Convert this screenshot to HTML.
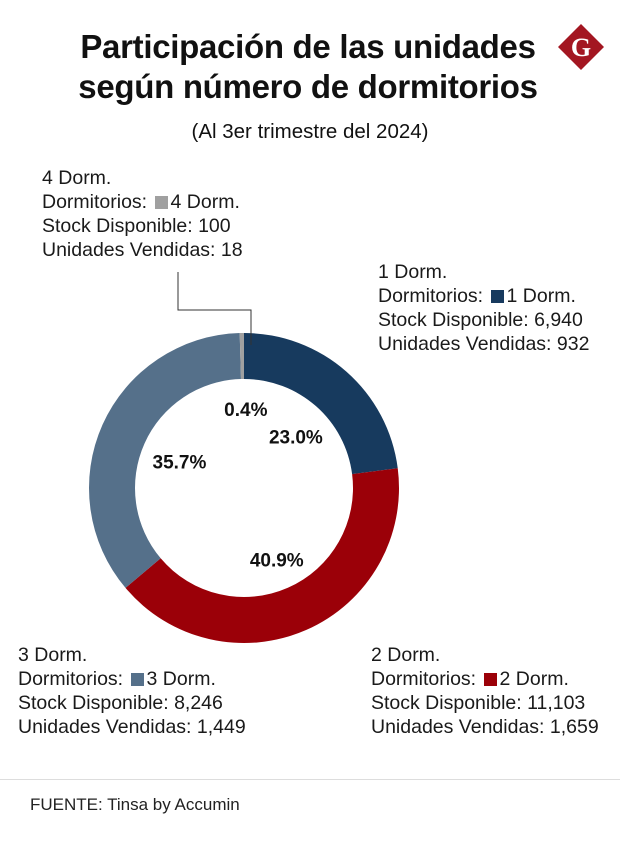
<!DOCTYPE html>
<html><head><meta charset="utf-8"><style>
body{margin:0;width:620px;height:848px;background:#fff;font-family:"Liberation Sans",sans-serif;position:relative;overflow:hidden}
.t{position:absolute;left:0;width:620px;text-align:center;font-weight:bold;color:#111}
.lab{position:absolute;font-size:19.5px;line-height:24px;color:#1a1a1a;white-space:nowrap}
.sq{display:inline-block;width:13px;height:13px;margin:0 3px 0 2px;vertical-align:-1px}
</style></head><body>
<div class="t" style="top:27px;font-size:33px;line-height:40px;left:-2px;font-weight:900;letter-spacing:-0.3px">Participación de las unidades<br>según número de dormitorios</div>
<div class="t" style="top:120px;font-size:20.5px;font-weight:normal;left:0px">(Al 3er trimestre del 2024)</div>
<svg style="position:absolute;left:557px;top:23px" width="48" height="48"><polygon points="24,1 47,24 24,47 1,24" fill="#a31621"/><text x="24" y="33" text-anchor="middle" font-family="Liberation Serif" font-weight="bold" font-size="26" fill="#fff">G</text></svg>
<svg id="chart" style="position:absolute;left:0;top:0" width="620" height="848"></svg>
<div class="lab" style="left:42px;top:166px">4 Dorm.<br>Dormitorios: <span class="sq" style="background:#a0a0a0"></span>4 Dorm.<br>Stock Disponible: 100<br>Unidades Vendidas: 18</div>
<div class="lab" style="left:378px;top:260px">1 Dorm.<br>Dormitorios: <span class="sq" style="background:#173a5e"></span>1 Dorm.<br>Stock Disponible: 6,940<br>Unidades Vendidas: 932</div>
<div class="lab" style="left:18px;top:643px">3 Dorm.<br>Dormitorios: <span class="sq" style="background:#55708a"></span>3 Dorm.<br>Stock Disponible: 8,246<br>Unidades Vendidas: 1,449</div>
<div class="lab" style="left:371px;top:643px">2 Dorm.<br>Dormitorios: <span class="sq" style="background:#9b0008"></span>2 Dorm.<br>Stock Disponible: 11,103<br>Unidades Vendidas: 1,659</div>
<div style="position:absolute;left:0;top:779px;width:620px;height:1px;background:#ddd"></div>
<div style="position:absolute;left:30px;top:795px;font-size:17px;color:#222">FUENTE: Tinsa by Accumin</div>
<script>
const categories=["1 Dorm.","2 Dorm.","3 Dorm.","4 Dorm."];
const sold=[932,1659,1449,18];
const colors=["#173a5e","#9b0008","#55708a","#a0a0a0"];
const svg=document.getElementById('chart');const NS="http://www.w3.org/2000/svg";
const cx=244,cy=488,R=155,r=109;
const total=sold.reduce((a,b)=>a+b,0);
function pt(a,rad){return [cx+rad*Math.sin(a),cy-rad*Math.cos(a)];}
let acc=0;
sold.forEach((v,i)=>{
 const a0=acc/total*2*Math.PI;acc+=v;const a1=acc/total*2*Math.PI;
 const lg=(a1-a0)>Math.PI?1:0;
 const p0=pt(a0,R),p1=pt(a1,R),q1=pt(a1,r),q0=pt(a0,r);
 const p=document.createElementNS(NS,'path');
 p.setAttribute('d',`M${p0}A${R},${R} 0 ${lg} 1 ${p1}L${q1}A${r},${r} 0 ${lg} 0 ${q0}Z`);
 p.setAttribute('fill',colors[i]);
 
 
 svg.appendChild(p);
 const m=(a0+a1)/2;const rr=(v/total<0.02)?83:74;const c=pt(m,rr);
 const t=document.createElementNS(NS,'text');
 t.setAttribute('x',c[0]+3);t.setAttribute('y',c[1]+11);
 t.setAttribute('text-anchor','middle');t.setAttribute('font-weight','bold');t.setAttribute('font-size','19');t.setAttribute('fill','#111');
 t.setAttribute('font-family','Liberation Sans');
 t.textContent=(v/total*100).toFixed(1)+'%';
 
 
 svg.appendChild(t);
});
const ln=document.createElementNS(NS,'polyline');
ln.setAttribute('points','178,272 178,310 251,310 251,345');
ln.setAttribute('fill','none');ln.setAttribute('stroke','#333');ln.setAttribute('stroke-width','1');


svg.appendChild(ln);
</script>
</body></html>
